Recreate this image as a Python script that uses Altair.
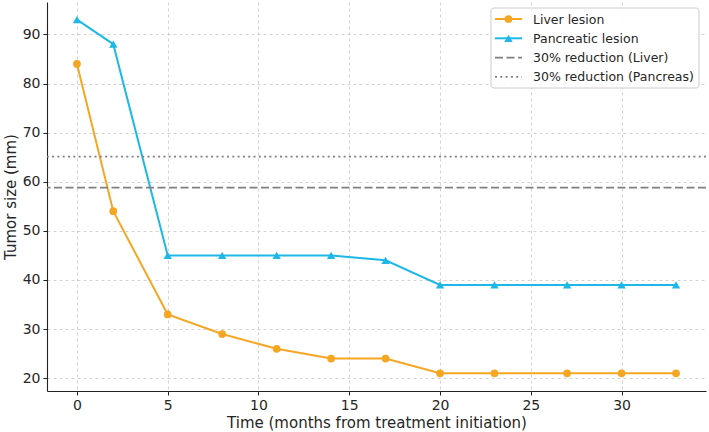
import altair as alt
import pandas as pd

# Measurements over time (months from treatment initiation)
months = [0, 2, 5, 8, 11, 14, 17, 20, 23, 27, 30, 33]
liver_mm = [84, 54, 33, 29, 26, 24, 24, 21, 21, 21, 21, 21]
pancreas_mm = [93, 88, 45, 45, 45, 45, 44, 39, 39, 39, 39, 39]

series_names = ["Liver lesion", "Pancreatic lesion"]
series_colors = ["#F5A623", "#1EB8E8"]
series_shapes = ["circle", "triangle-up"]
series_sizes = [60, 70]

threshold_names = ["30% reduction (Liver)", "30% reduction (Pancreas)"]
threshold_dashes = [[8, 3.5], [2, 3.3]]
baselines = [liver_mm[0], pancreas_mm[0]]
thresholds = [b * 0.7 for b in baselines]

x_ticks = [0, 5, 10, 15, 20, 25, 30]
y_ticks = [20, 30, 40, 50, 60, 70, 80, 90]

FONT = "DejaVu Sans"
W, H = 659, 389

long = pd.DataFrame({
    "month": months * 2,
    "size": liver_mm + pancreas_mm,
    "lesion": [series_names[0]] * len(months) + [series_names[1]] * len(months),
})

x_enc = alt.X("month:Q", scale=alt.Scale(domain=[-1.65, 34.65], nice=False, zero=False),
              axis=alt.Axis(values=x_ticks, title="Time (months from treatment initiation)",
                            titlePadding=3))
y_enc = alt.Y("size:Q", scale=alt.Scale(domain=[17.4, 96.6], nice=False, zero=False),
              axis=alt.Axis(values=y_ticks, title="Tumor size (mm)", titlePadding=4))
color_enc = alt.Color("lesion:N", scale=alt.Scale(domain=series_names, range=series_colors),
                      legend=None)
shape_enc = alt.Shape("lesion:N", scale=alt.Scale(domain=series_names, range=series_shapes),
                      legend=None)
size_enc = alt.Size("lesion:N", scale=alt.Scale(domain=series_names, range=series_sizes),
                    legend=None)

lines = alt.Chart(long).mark_line(strokeWidth=2).encode(x=x_enc, y=y_enc, color=color_enc)
points = alt.Chart(long).mark_point(filled=True, opacity=1).encode(
    x="month:Q", y="size:Q", color=color_enc, shape=shape_enc, size=size_enc)

layers = []
for name, val, dash in zip(threshold_names, thresholds, threshold_dashes):
    layers.append(
        alt.Chart(pd.DataFrame({"name": [name], "size": [val]}))
        .mark_rule(color="#808080", strokeWidth=1.8, strokeDash=dash)
        .encode(y="size:Q")
    )

# Legend panel in the upper right corner
box = alt.Chart(pd.DataFrame({"k": [0]})).mark_rect(
    fill="white", fillOpacity=0.85, stroke="#cccccc", strokeWidth=1, cornerRadius=3
).encode(x=alt.value(444), x2=alt.value(652), y=alt.value(6), y2=alt.value(86))

legend_labels = series_names + threshold_names
legend_layers = [box]
for i, label in enumerate(legend_labels):
    ly = 17 + i * 19.3
    row = pd.DataFrame({"label": [label]})
    if i < 2:
        legend_layers.append(
            alt.Chart(row).mark_rule(color=series_colors[i], strokeWidth=2)
            .encode(x=alt.value(448), x2=alt.value(475), y=alt.value(ly)))
        legend_layers.append(
            alt.Chart(row).mark_point(filled=True, size=series_sizes[i], opacity=1,
                                      color=series_colors[i], shape=series_shapes[i])
            .encode(x=alt.value(461.5), y=alt.value(ly)))
    else:
        legend_layers.append(
            alt.Chart(row).mark_rule(color="#808080", strokeWidth=1.8,
                                     strokeDash=threshold_dashes[i - 2])
            .encode(x=alt.value(448), x2=alt.value(475), y=alt.value(ly)))
    legend_layers.append(
        alt.Chart(row).mark_text(align="left", baseline="middle", font=FONT,
                                 fontSize=12.5, color="#262626")
        .encode(x=alt.value(486), y=alt.value(ly + 0.5), text="label:N"))

chart = alt.layer(lines, points, *layers, *legend_layers).properties(
    width=W, height=H,
    autosize=alt.AutoSizeParams(type="none"),
    padding={"left": 47, "top": 2, "right": 3, "bottom": 41},
).configure_view(stroke=None).configure_axis(
    labelFont=FONT, titleFont=FONT, labelFontSize=14, titleFontSize=15,
    titleFontWeight="normal", labelColor="#262626", titleColor="#262626",
    domainColor="#222222", domainWidth=1.1, tickColor="#222222", tickSize=4,
    tickWidth=1, labelPadding=3,
    gridColor="#c8c8c8", gridDash=[3, 3], gridWidth=0.8,
)

chart.save("out.html", embed_options={"renderer": "svg", "actions": False})
